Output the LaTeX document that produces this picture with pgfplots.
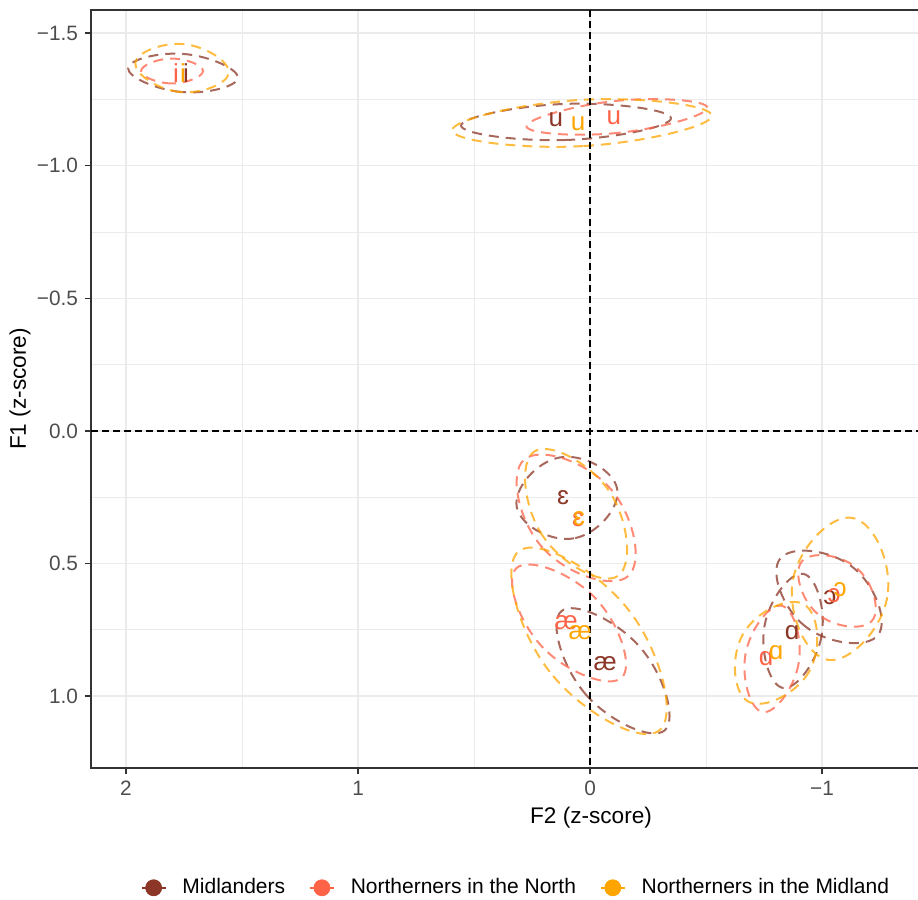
\documentclass[border=0pt]{standalone}
\usepackage{pgfplots}
\pgfplotsset{compat=1.18}
\usepackage{fontspec}
\setmainfont{Liberation Sans}
\definecolor{cmid}{RGB}{139,54,38}
\definecolor{cnorth}{RGB}{255,99,71}
\definecolor{cmidl}{RGB}{255,165,0}
\definecolor{gridc}{RGB}{235,235,235}
\definecolor{tickc}{RGB}{77,77,77}
\definecolor{borderc}{RGB}{51,51,51}
\newcommand{\labfont}{\fontsize{13}{15}\selectfont}
\pgfplotsset{
  ell/.style={smooth cycle, tension=0.83, line width=1pt, draw opacity=0.75, dash pattern=on 5pt off 3.5pt, forget plot},
  lab/.style={only marks, mark=none, nodes near coords, point meta=explicit symbolic, forget plot,
    nodes near coords style={anchor=center, text=#1, font=\labfont, inner sep=0pt}},
}
\begin{document}
\begin{tikzpicture}
\begin{axis}[
  scale only axis, width=416pt, height=379pt,
  x dir=reverse, y dir=reverse,
  xmin=-1.435, xmax=2.151, ymin=-1.587, ymax=1.271,
  xtick={-1,0,1,2}, xticklabels={−1,0,1,2},
  ytick={-1.5,-1,-0.5,0,0.5,1}, yticklabels={−1.5,−1.0,−0.5,0.0,0.5,1.0},
  minor xtick={-0.5,0.5,1.5}, minor ytick={-1.25,-0.75,-0.25,0.25,0.75},
  grid=both,
  major grid style={gridc, line width=0.8pt},
  minor grid style={gridc, line width=0.4pt},
  tick align=outside, tick pos=left,
  major tick length=3pt, minor tick length=0pt,
  tick style={borderc, line width=0.7pt},
  axis line style={borderc, line width=0.7pt},
  ticklabel style={font=\fontsize{10.4}{12}\selectfont, text=tickc},
  xlabel={F2 (z-score)}, ylabel={F1 (z-score)},
  label style={font=\fontsize{11.3}{13}\selectfont},
  xlabel style={at={(axis description cs:0.601,-0.066)}, anchor=center},
  ylabel style={at={(axis description cs:-0.0853,0.5)}, anchor=center},
  legend style={at={(axis description cs:0.512,-0.158)}, anchor=center, draw=none, fill=none,
    font=\fontsize{10.5}{12}\selectfont,
    /tikz/every odd column/.append style={column sep=6pt},
    /tikz/every even column/.append style={column sep=10pt}},
  legend columns=3, legend cell align=left,
]
% Midlanders ellipses
\addplot[cmid, ell] coordinates {(1.518,-1.331) (1.762,-1.278) (1.991,-1.368) (1.747,-1.421)};
\addplot[cmid, ell] coordinates {(-0.349,-1.179) (0.101,-1.097) (0.556,-1.151) (0.106,-1.233)};
\addplot[cmid, ell] coordinates {(-0.117,0.219) (0.069,0.405) (0.316,0.286) (0.130,0.100)};
\addplot[cmid, ell] coordinates {(-0.322,1.129) (0.018,0.994) (0.124,0.680) (-0.216,0.816)};
\addplot[cmid, ell] coordinates {(-1.241,0.770) (-0.929,0.738) (-0.819,0.482) (-1.131,0.513)};
\addplot[cmid, ell] coordinates {(-0.919,0.539) (-0.998,0.773) (-0.831,0.969) (-0.752,0.735)};
% Northerners in the North ellipses
\addplot[cnorth, ell] coordinates {(1.668,-1.357) (1.802,-1.310) (1.935,-1.357) (1.802,-1.404)};
\addplot[cnorth, ell] coordinates {(-0.506,-1.219) (-0.124,-1.124) (0.274,-1.148) (-0.109,-1.244)};
\addplot[cnorth, ell] coordinates {(-0.165,0.547) (0.204,0.441) (0.285,0.109) (-0.084,0.214)};
\addplot[cnorth, ell] coordinates {(-0.137,0.930) (0.202,0.818) (0.318,0.518) (-0.021,0.629)};
\addplot[cnorth, ell] coordinates {(-1.216,0.715) (-0.981,0.690) (-0.913,0.492) (-1.148,0.516)};
\addplot[cnorth, ell] coordinates {(-0.825,0.659) (-0.899,0.877) (-0.744,1.060) (-0.670,0.842)};
% Northerners in the Midland ellipses
\addplot[cmidl, ell] coordinates {(1.557,-1.350) (1.769,-1.278) (1.960,-1.387) (1.748,-1.458)};
\addplot[cmidl, ell] coordinates {(-0.525,-1.189) (0.029,-1.074) (0.594,-1.133) (0.040,-1.248)};
\addplot[cmidl, ell] coordinates {(-0.120,0.547) (0.203,0.397) (0.241,0.078) (-0.083,0.228)};
\addplot[cmidl, ell] coordinates {(-0.298,1.130) (0.174,0.908) (0.307,0.453) (-0.166,0.675)};
\addplot[cmidl, ell] coordinates {(-1.131,0.328) (-1.281,0.627) (-1.024,0.863) (-0.874,0.564)};
\addplot[cmidl, ell] coordinates {(-0.922,0.654) (-0.944,0.908) (-0.681,1.020) (-0.660,0.765)};
% vowel labels
\addplot[lab=cmid] coordinates {(1.741,-1.349)[i] (0.147,-1.172)[u] (0.116,0.253)[ɛ] (-0.065,0.878)[æ] (-1.034,0.629)[ɔ] (-0.871,0.761)[ɑ]};
\addplot[lab=cnorth] coordinates {(1.784,-1.349)[i] (-0.103,-1.180)[u] (0.052,0.335)[ɛ] (0.103,0.724)[æ] (-1.052,0.622)[ɔ] (-0.759,0.859)[ɑ]};
\addplot[lab=cmidl] coordinates {(1.754,-1.349)[i] (0.052,-1.157)[u] (0.047,0.332)[ɛ] (0.043,0.761)[æ] (-1.078,0.599)[ɔ] (-0.802,0.837)[ɑ]};
% zero lines
\addplot[black, line width=0.9pt, dash pattern=on 3.5pt off 2pt, forget plot] coordinates {(0,-1.587) (0,1.271)};
\addplot[black, line width=0.9pt, dash pattern=on 3.5pt off 2pt, forget plot] coordinates {(-1.435,0) (2.151,0)};
% legend
\addlegendimage{legend image code/.code={\draw[cmid, line width=0.8pt] (0pt,0pt) -- (12pt,0pt); \fill[cmid] (6pt,0pt) circle (4pt);}}
\addlegendentry{Midlanders}
\addlegendimage{legend image code/.code={\draw[cnorth, line width=0.8pt] (0pt,0pt) -- (12pt,0pt); \fill[cnorth] (6pt,0pt) circle (4pt);}}
\addlegendentry{Northerners in the North}
\addlegendimage{legend image code/.code={\draw[cmidl, line width=0.8pt] (0pt,0pt) -- (12pt,0pt); \fill[cmidl] (6pt,0pt) circle (4pt);}}
\addlegendentry{Northerners in the Midland}
\end{axis}
\pgfresetboundingbox
\path[use as bounding box] ([shift={(-45.5pt,-66pt)}]current axis.south west) rectangle ++(459pt,450pt);
\end{tikzpicture}
\end{document}
